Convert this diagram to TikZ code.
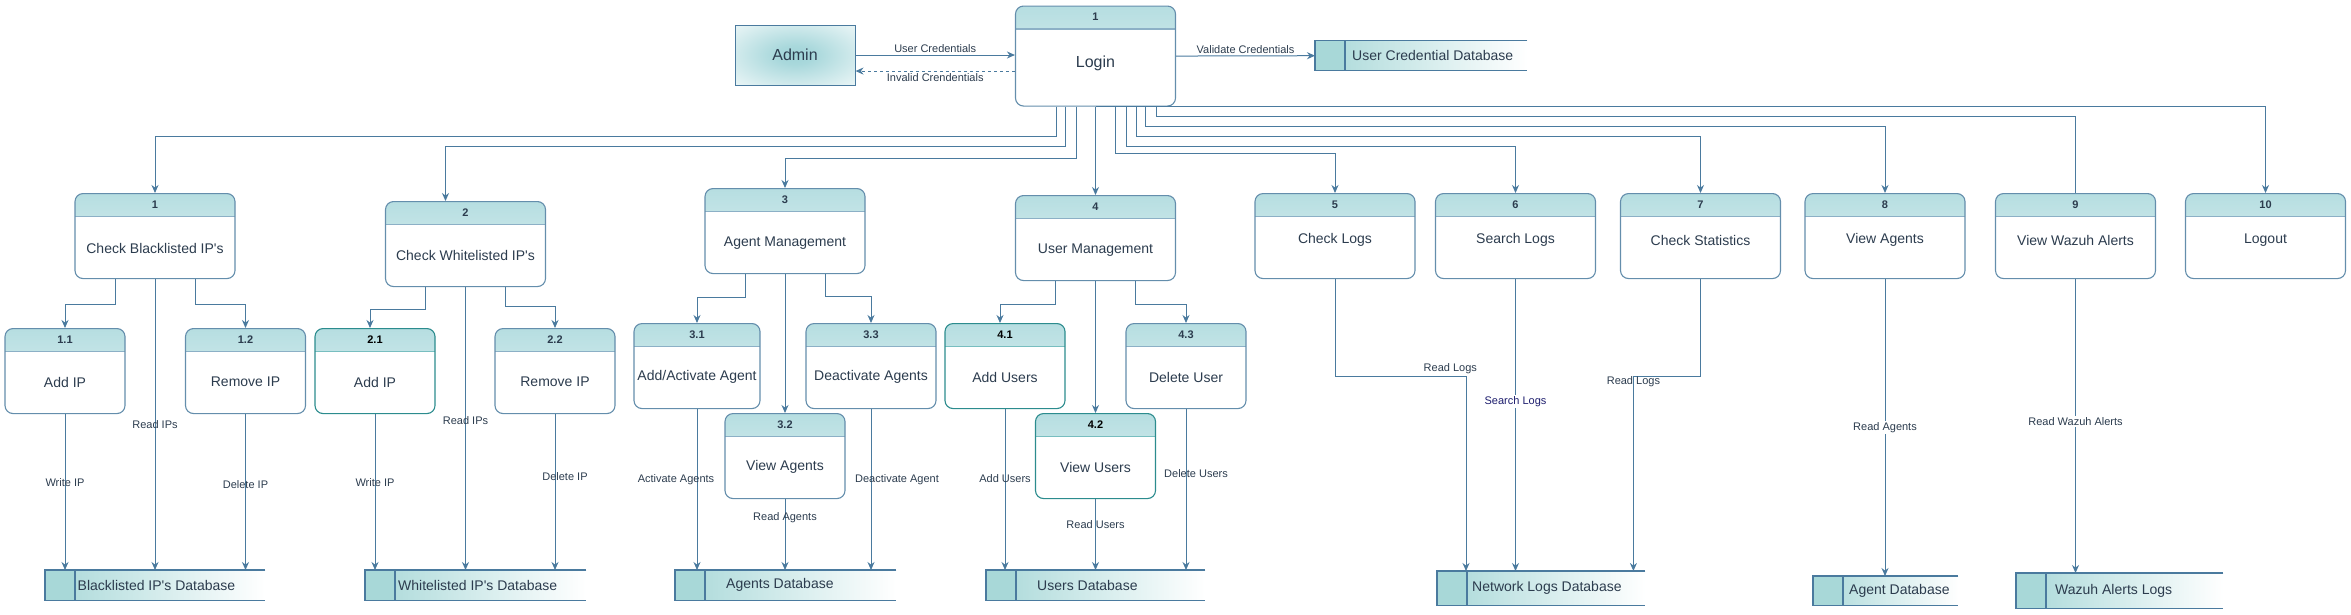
\documentclass[tikz,border=0pt]{standalone}
\usepackage{fontspec}
\setmainfont{Liberation Sans}[Ligatures=TeXOff]
\usetikzlibrary{arrows.meta}

\definecolor{flowc}{RGB}{74,122,158}
\definecolor{procc}{RGB}{100,142,172}
\definecolor{sepc}{RGB}{140,176,198}
\definecolor{tealc}{RGB}{44,140,142}
\definecolor{tealsep}{RGB}{120,190,192}
\definecolor{hdrc}{RGB}{160,212,216}
\definecolor{storec}{RGB}{168,216,216}
\definecolor{txtc}{RGB}{44,60,78}
\definecolor{navyc}{RGB}{30,30,110}

% soft glow for the external entity, fading header band
\pgfdeclareradialshading{adminglow}{\pgfpoint{0bp}{0bp}}{color(0bp)=(hdrc); color(8bp)=(hdrc!90!white); color(30bp)=(hdrc!35!white); color(46bp)=(white); color(50bp)=(white)}
\pgfdeclareverticalshading{hdrfade}{100bp}{color(0bp)=(hdrc!8!white); color(100bp)=(hdrc)}

\begin{document}
\begin{tikzpicture}[x=1pt, y=-1pt,
  flow/.style={draw=flowc, line width=1pt, -{Stealth[length=8pt,width=7pt]}},
  flowplain/.style={draw=flowc, line width=1pt},
  flowlabel/.style={font=\fontsize{11}{12}\selectfont, text=txtc, inner sep=1.5pt},
  sepcolor/.code={\def\sepcol{#1}},
  proc/.style={sepcolor=sepc, draw=procc, line width=1.1pt, fill=white, rounded corners=8pt,
    minimum height=85pt, inner sep=0pt,
    path picture={
      \shade[sharp corners, shading=hdrfade]
        (path picture bounding box.north west) rectangle ([yshift=-23pt]path picture bounding box.north east);
      \draw[sharp corners, draw=\sepcol, line width=1.3pt]
        ([yshift=-23pt]path picture bounding box.north west) -- ([yshift=-23pt]path picture bounding box.north east);
    }},
  procT/.style={proc, draw=tealc, sepcolor=tealsep},
  procnum/.style={font=\bfseries\fontsize{11}{12}\selectfont, text=txtc},
  procTnum/.style={font=\bfseries\fontsize{11}{12}\selectfont, text=black},
  proctext/.style={font=\fontsize{14}{16}\selectfont, text=txtc},
  adminbox/.style={draw=flowc, line width=1pt, shading=adminglow, minimum width=120pt,
    minimum height=60pt, font=\fontsize{16}{18}\selectfont, text=txtc},
  store/.style={left color=storec, right color=white, draw=none, inner sep=0pt},
  storebox/.style={fill=storec},
  storeline/.style={draw=flowc, line width=1.1pt},
  storetext/.style={font=\fontsize{14}{16}\selectfont, text=txtc, inner sep=0pt}
]
\useasboundingbox (0,0) rectangle (2351,614);

% Process box: style, name, number, x centre, top, width, text drop, text
\newcommand{\process}[8][proc]{
  \node[#1, minimum width=#6pt, anchor=north] (#2) at (#4,#5) {};
  \node[#1num] (#2n) at ([yshift=-11.5pt]#2.north) {#3};
  \node[proctext] (#2t) at ([yshift=-#7pt]#2.north) {#8};
}

% Data store: name, left, top, width, height, text gap, text
\newcommand{\datastore}[7]{
  \node[store, minimum width=#4pt, minimum height=#5pt, anchor=north west] (#1) at (#2,#3) {};
  \fill[storebox] (#1.north west) rectangle ([xshift=30pt]#1.south west);
  \draw[storeline] (#1.north east) -- (#1.north west) -- (#1.south west) -- (#1.south east);
  \draw[storeline] ([xshift=30pt]#1.north west) -- ([xshift=30pt]#1.south west);
  \node[storetext, anchor=west] (#1t) at ([xshift=#6pt]#1.west) {#7};
}

% Top level: admin, login and credential store
\node[adminbox] (admin) at (795,55) {Admin};
\node[proc, minimum width=160pt, minimum height=100pt, anchor=north] (login) at (1095.5,5.5) {};
\node[procnum] (loginn) at ([yshift=-11.5pt]login.north) {1};
\node[proctext, font=\fontsize{16}{18}\selectfont] (logint) at ([yshift=-57.5pt]login.north) {Login};
\datastore{ucdb}{1315}{40.5}{212}{30}{37}{User Credential Database}

\draw[flow] (admin.east) -- (admin.east -| login.west) node[flowlabel, midway, above] (luc) {User Credentials};
\draw[flow, dashed] ([yshift=-15pt]login.west) -- ([yshift=-15pt]login.west -| admin.east) node[flowlabel, midway, below] (lic) {Invalid Crendentials};
\draw[flow] (login.east) -- (ucdb.west) node[flowlabel, midway, above] (lvc) {Validate Credentials};

% Level 1 processes
\process{p1}{1}{155}{193}{160}{55}{Check Blacklisted IP's}
\process{p2}{2}{465.5}{201}{160}{54}{Check Whitelisted IP's}
\process{p3}{3}{785}{188}{160}{55}{Agent Management}
\process{p4}{4}{1095.5}{195}{160}{55}{User Management}
\process{p5}{5}{1335}{193}{160}{47}{Check Logs}
\process{p6}{6}{1515.5}{193}{160}{47}{Search Logs}
\process{p7}{7}{1700.5}{193}{160}{47}{Check Statistics}
\process{p8}{8}{1885}{193}{160}{47}{View Agents}
\process{p9}{9}{2075.5}{193}{160}{47}{View Wazuh Alerts}
\process{p10}{10}{2265.5}{193}{160}{47}{Logout}

% Level 2 processes
\process{p11}{1.1}{65}{328}{120}{54}{Add IP}
\process{p12}{1.2}{245.5}{328}{120}{54}{Remove IP}
\process[procT]{p21}{2.1}{375}{328}{120}{54}{Add IP}
\process{p22}{2.2}{555}{328}{120}{54}{Remove IP}
\process{p31}{3.1}{697}{323}{126}{54}{Add/Activate Agent}
\process{p32}{3.2}{785}{413}{120}{54}{View Agents}
\process{p33}{3.3}{871}{323}{130}{54}{Deactivate Agents}
\process[procT]{p41}{4.1}{1005}{323}{120}{54}{Add Users}
\process[procT]{p42}{4.2}{1095.5}{413}{120}{54}{View Users}
\process{p43}{4.3}{1186}{323}{120}{54}{Delete User}

% Data stores
\datastore{bldb}{45}{570}{220}{30}{32.5}{Blacklisted IP's Database}
\datastore{wldb}{365}{570}{221}{30}{33}{Whitelisted IP's Database}
\datastore{agdb}{675}{570}{221}{30}{51}{Agents Database}
\datastore{usdb}{986}{570}{219}{30}{51}{Users Database}
\datastore{nldb}{1437}{571}{208}{34}{35}{Network Logs Database}
\datastore{adb}{1813}{576}{145}{29}{36}{Agent Database}
\datastore{wzdb}{2016}{573}{207}{35}{39}{Wazuh Alerts Logs}

% Login to level 1
\draw[flow] ([xshift=-39.5pt]login.south) -- ++(0,30) -| (p1.north);
\draw[flow] ([xshift=-30pt]login.south) -- ++(0,40) -| ([xshift=-20pt]p2.north);
\draw[flow] ([xshift=-19.5pt]login.south) -- ++(0,52) -| (p3.north);
\draw[flow] (login.south) -- (p4.north);
\draw[flow] ([xshift=20pt]login.south) -- ++(0,47) -| (p5.north);
\draw[flow] ([xshift=30.5pt]login.south) -- ++(0,40) -| (p6.north);
\draw[flow] ([xshift=40.5pt]login.south) -- ++(0,30) -| (p7.north);
\draw[flow] ([xshift=50pt]login.south) -- ++(0,20) -| (p8.north);
\draw[flowplain] ([xshift=60.5pt]login.south) -- ++(0,10) -| (p9.north);
\draw[flow] (login.south) -| (p10.north);

% Level 1 to level 2
\draw[flow] ([xshift=-40pt]p1.south) -- ++(0,25) -| (p11.north);
\draw[flow] ([xshift=40pt]p1.south) -- ++(0,25) -| (p12.north);
\draw[flow] ([xshift=-40pt]p2.south) -- ++(0,22) -| ([xshift=-5pt]p21.north);
\draw[flow] ([xshift=40pt]p2.south) -- ++(0,19) -| (p22.north);
\draw[flow] ([xshift=-40pt]p3.south) -- ++(0,23) -| (p31.north);
\draw[flow] (p3.south) -- (p32.north);
\draw[flow] ([xshift=40pt]p3.south) -- ++(0,22) -| (p33.north);
\draw[flow] ([xshift=-40pt]p4.south) -- ++(0,23) -| ([xshift=-5pt]p41.north);
\draw[flow] (p4.south) -- (p42.north);
\draw[flow] ([xshift=40pt]p4.south) -- ++(0,23) -| (p43.north);

% Flows into the stores
\draw[flow] (p11.south) -- (p11.south |- bldb.north) node[flowlabel, pos=.44] (lw1) {Write IP};
\draw[flow] (p1.south) -- (p1.south |- bldb.north) node[flowlabel, pos=.5] (lr1) {Read IPs};
\draw[flow] (p12.south) -- (p12.south |- bldb.north) node[flowlabel, pos=.45] (ld1) {Delete IP};
\draw[flow] (p21.south) -- (p21.south |- wldb.north) node[flowlabel, pos=.44] (lw2) {Write IP};
\draw[flow] (p2.south) -- (p2.south |- wldb.north) node[flowlabel, pos=.47] (lr2) {Read IPs};
\draw[flow] (p22.south) -- (p22.south |- wldb.north) node[flowlabel, pos=.4, xshift=10pt] (ld2) {Delete IP};
\draw[flow] (p31.south) -- (p31.south |- agdb.north) node[flowlabel, pos=.44, xshift=-21pt] (laa) {Activate Agents};
\draw[flow] (p32.south) -- (p32.south |- agdb.north) node[flowlabel, pos=.26] (lra) {Read Agents};
\draw[flow] (p33.south) -- (p33.south |- agdb.north) node[flowlabel, pos=.44, xshift=26pt] (lda) {Deactivate Agent};
\draw[flow] (p41.south) -- (p41.south |- usdb.north) node[flowlabel, pos=.43] (lau) {Add Users};
\draw[flow] (p42.south) -- (p42.south |- usdb.north) node[flowlabel, pos=.36] (lru) {Read Users};
\draw[flow] (p43.south) -- (p43.south |- usdb.north) node[flowlabel, pos=.4, xshift=10pt] (ldu) {Delete Users};
\draw[flow] (p5.south) -- ++(0,97) -| ([xshift=29pt]nldb.north west) node[flowlabel, pos=.44, above] (lrl1) {Read Logs};
\draw[flow] (p6.south) -- (p6.south |- nldb.north) node[flowlabel, fill=white, text=navyc, pos=.42] (lsl) {Search Logs};
\draw[flow] (p7.south) -- ++(0,97) -| ([xshift=-12pt]nldb.north east) node[flowlabel, pos=.513] (lrl2) {Read Logs};
\draw[flow] (p8.south) -- (p8.south |- adb.north) node[flowlabel, fill=white, pos=.5] (lrag) {Read Agents};
\draw[flow] (p9.south) -- (p9.south |- wzdb.north) node[flowlabel, fill=white, pos=.485] (lrw) {Read Wazuh Alerts};

\end{tikzpicture}
\end{document}
